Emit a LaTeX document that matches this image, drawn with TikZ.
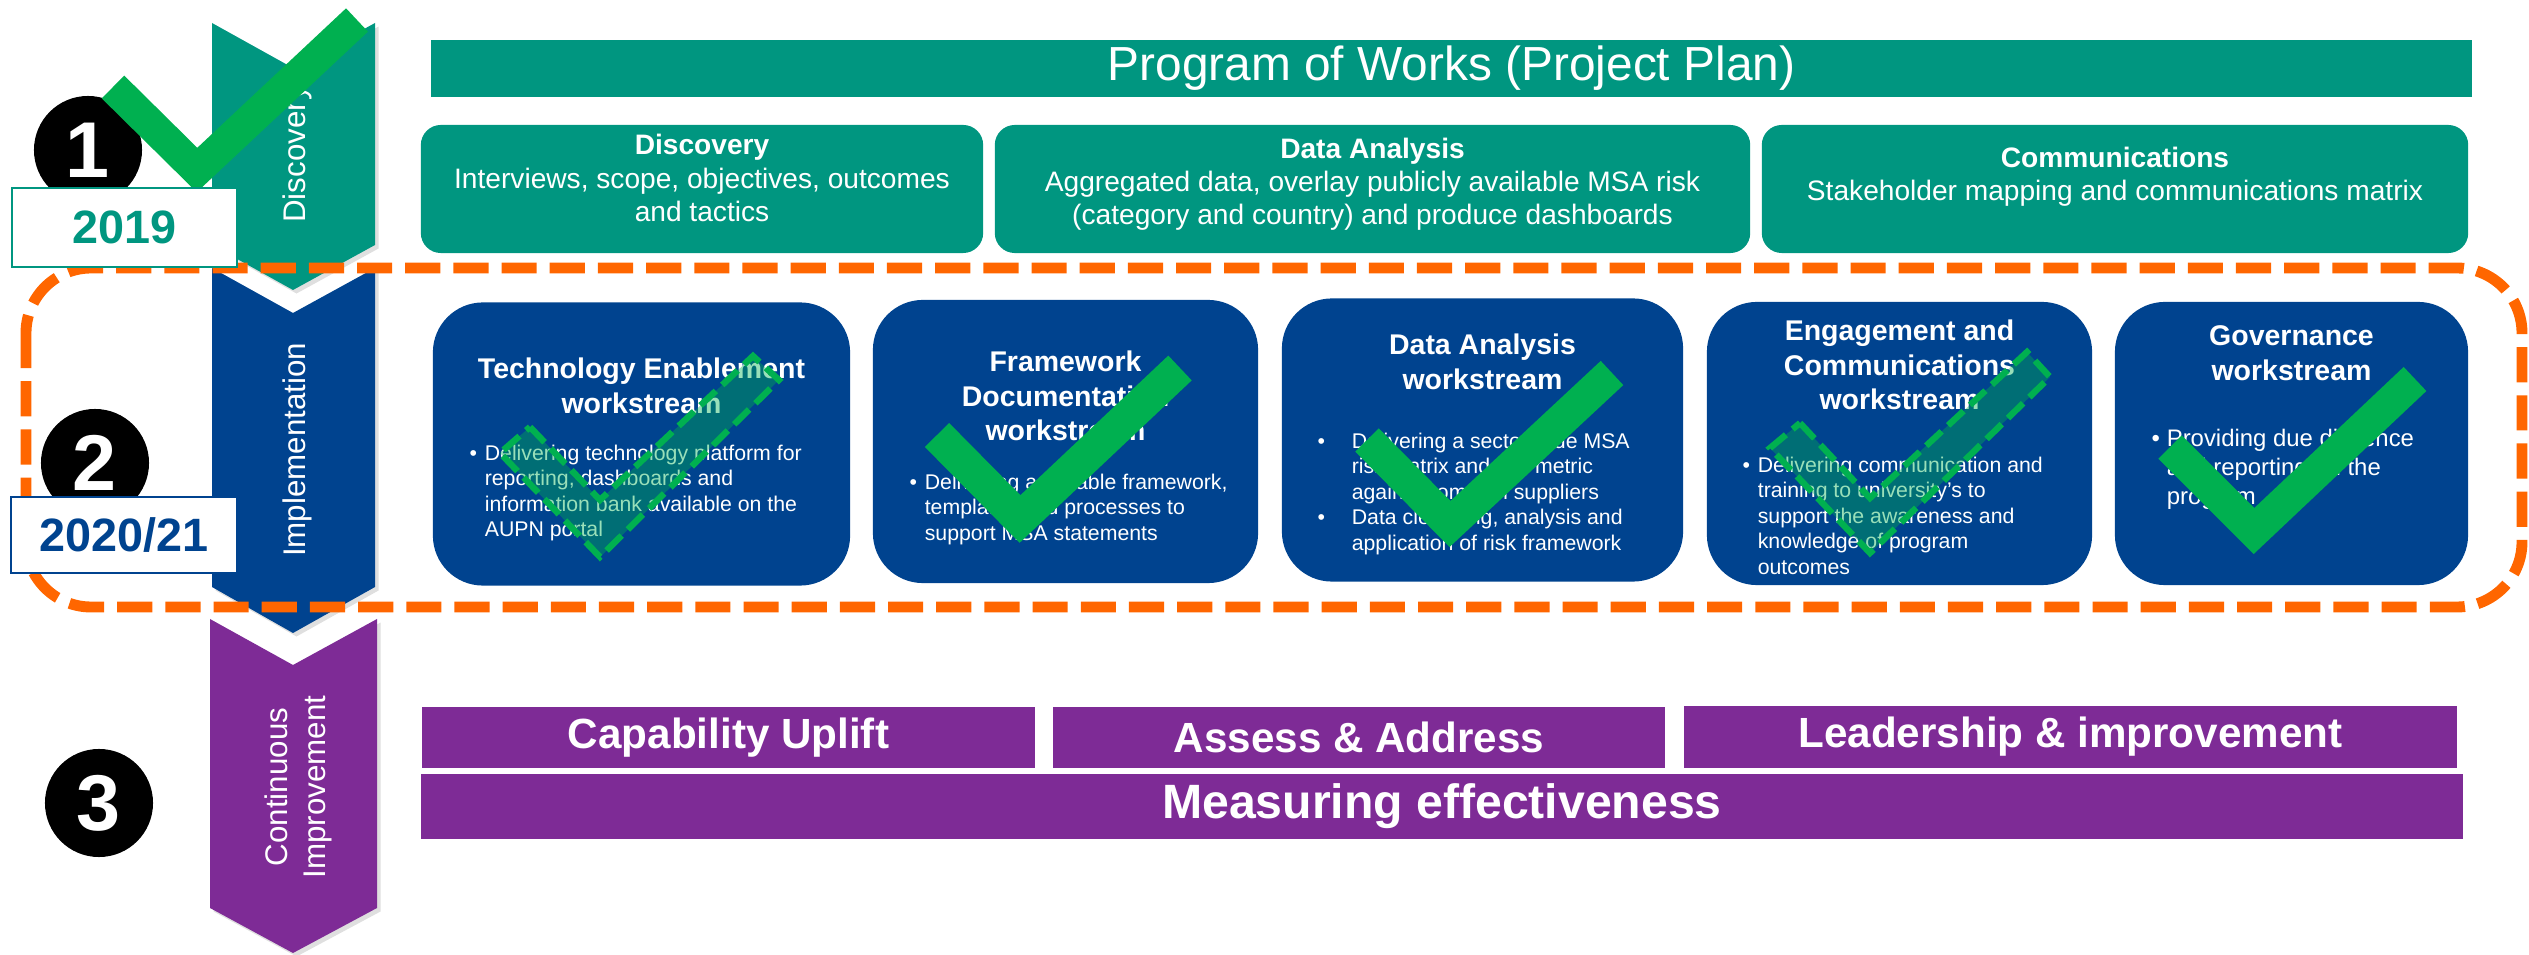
\documentclass[tikz,border=0pt]{standalone}
\usepackage{fontspec}
\setmainfont{Liberation Sans}
\usetikzlibrary{shadows}

\definecolor{pwteal}{RGB}{0,150,128}
\definecolor{pwblue}{RGB}{0,67,143}
\definecolor{pwpurple}{RGB}{126,43,150}
\definecolor{pworange}{RGB}{255,102,0}
\definecolor{pwgreen}{RGB}{0,176,80}

\newcommand{\wsdot}[1]{\makebox[#1][l]{\textbullet}}

\tikzset{
  chevron/.style={drop shadow={shadow xshift=1pt, shadow yshift=-1pt, opacity=0.25}},
  chevlabel/.style={text=white, rotate=90, align=center, inner sep=0pt, font=\fontsize{8.9pt}{10.8pt}\selectfont},
  tealbox/.style={fill=pwteal, rounded corners=0.2cm, inner sep=0pt, minimum height=1.28cm},
  tealtext/.style={text=white, align=center, inner sep=0pt, font=\fontsize{8pt}{9.4pt}\selectfont},
  wsbox/.style={fill=pwblue, rounded corners=0.5cm, inner sep=0pt, minimum height=2.83cm},
  wstitle/.style={text=white, align=center, inner sep=0pt, font=\bfseries\fontsize{8.1pt}{9.8pt}\selectfont},
  wsbody/.style={text=white, align=left, anchor=north west, inner sep=0pt, font=\fontsize{6.05pt}{7.25pt}\selectfont},
  purplebar/.style={fill=pwpurple, text=white, inner sep=0pt, font=\bfseries\fontsize{12pt}{14pt}\selectfont},
  stepnum/.style={circle, fill=black, text=white, minimum size=1.08cm, inner sep=0pt, font=\bfseries\fontsize{22.5pt}{26pt}\selectfont},
  yearbox/.style={draw, fill=white, line width=0.6pt, inner sep=0pt, minimum width=2.25cm, font=\bfseries\fontsize{13.3pt}{16pt}\selectfont},
  donetick/.style={draw=pwgreen, line width=#1, line join=miter, line cap=butt},
  dashtick/.style={draw=pwgreen, fill=pwgreen, fill opacity=0.4, line width=1.8pt, dash pattern=on 6pt off 2.5pt}
}

\begin{document}
\begin{tikzpicture}[x=0.01cm, y=-0.01cm]
            \useasboundingbox (0,0) rectangle (2529,955);

            % phase arrows
            \fill[pwteal, chevron] (212,23) -- (293,68) -- (375,23) -- (375,245) -- (293,290) -- (212,245) -- cycle;
            \fill[pwblue, chevron] (212,268) -- (293,313) -- (375,268) -- (375,587) -- (293,633) -- (212,587) -- cycle;
            \fill[pwpurple, chevron] (210,619) -- (293,665) -- (377,619) -- (377,908) -- (293,953) -- (210,908) -- cycle;
            \node[chevlabel] (disc-lbl) at (297,154) {Discovery};
            \node[chevlabel] (impl-lbl) at (297,450) {Implementation};
            \node[chevlabel] (cont-lbl) at (298,787) {Continuous\\Improvement};

            % program of works
            \node[fill=pwteal, text=white, inner sep=0pt, minimum width=20.39cm, minimum height=0.57cm,
                  font=\fontsize{13.6pt}{16pt}\selectfont] (plan) at (1451.5,68.5) {Program of Works (Project Plan)};
            \node[tealbox, minimum width=5.62cm] (disc) at (702,189) {};
            \node[tealbox, minimum width=7.55cm] (dana) at (1372.5,189) {};
            \node[tealbox, minimum width=7.06cm] (comm) at (2115,189) {};
            \node[tealtext] (disc-txt) at (702,178) {\textbf{Discovery}\\Interviews, scope, objectives, outcomes\\and tactics};
            \node[tealtext] (dana-txt) at (1372.5,184) {\textbf{Data Analysis}\\Aggregated data, overlay publicly available MSA risk\\(category and country) and produce dashboards};
            \node[tealtext] (comm-txt) at (2115,177) {\textbf{Communications}\\Stakeholder mapping and communications matrix};

            % workstreams
            \node[wsbox, minimum width=4.17cm] (ws1) at (641.5,444) {};
            \node[wsbox, minimum width=3.85cm] (ws2) at (1065.5,441.5) {};
            \node[wsbox, minimum width=4.01cm] (ws3) at (1482.5,440) {};
            \node[wsbox, minimum width=3.85cm] (ws4) at (1899.5,443.5) {};
            \node[wsbox, minimum width=3.53cm] (ws5) at (2291.5,443.5) {};

            \node[wstitle] (ws1-t) at (641.5,386) {Technology Enablement\\workstream};
            \node[wstitle] (ws2-t) at (1065.5,396) {Framework\\Documentation\\workstream};
            \node[wstitle] (ws3-t) at (1482.5,362) {Data Analysis\\workstream};
            \node[wstitle] (ws4-t) at (1899.5,365) {Engagement and\\Communications\\workstream};
            \node[wstitle] (ws5-t) at (2291.5,353) {Governance\\workstream};

            \node[wsbody] (ws1-b) at (469,444) {\wsdot{4.3pt}Delivering technology platform for\\\hspace*{4.3pt}reporting, dashboards and\\\hspace*{4.3pt}information bank available on the\\\hspace*{4.3pt}AUPN portal};
            \node[wsbody] (ws2-b) at (909,473) {\wsdot{4.3pt}Delivering a suitable framework,\\\hspace*{4.3pt}templates and processes to\\\hspace*{4.3pt}support MSA statements};
            \node[wsbody] (ws3-b) at (1317,432) {\wsdot{9.7pt}Delivering a sector wide MSA\\\hspace*{9.7pt}risk matrix and risk metric\\\hspace*{9.7pt}against common suppliers\\\wsdot{9.7pt}Data cleansing, analysis and\\\hspace*{9.7pt}application of risk framework};
            \node[wsbody] (ws4-b) at (1742,456) {\wsdot{4.3pt}Delivering communication and\\\hspace*{4.3pt}training to university's to\\\hspace*{4.3pt}support the awareness and\\\hspace*{4.3pt}knowledge of program\\\hspace*{4.3pt}outcomes};
            \node[wsbody, font=\fontsize{6.8pt}{8.25pt}\selectfont] (ws5-b) at (2151,428) {\wsdot{4.3pt}Providing due diligence\\\hspace*{4.3pt}and reporting on the\\\hspace*{4.3pt}program};

            % continuous improvement
            \node[purplebar, minimum width=6.13cm, minimum height=0.61cm] (cap) at (728.5,737.5) {Capability Uplift};
            \node[purplebar, minimum width=6.12cm, minimum height=0.61cm] (assess) at (1359,737.5) {Assess \& Address};
            \node[purplebar, minimum width=7.73cm, minimum height=0.62cm] (lead) at (2070.5,737) {Leadership \& improvement};
            \node[purplebar, minimum width=20.40cm, minimum height=0.65cm, font=\bfseries\fontsize{13.7pt}{16pt}\selectfont] (measure) at (1442,806.5) {Measuring effectiveness};

            % 2020/21 scope
            \draw[pworange, line width=3.1pt, dash pattern=on 10pt off 3.7pt, rounded corners=0.65cm] (26,268) rectangle (2522,607);

            \node[stepnum] (n1) at (88,150) {1};
            \node[stepnum] (n2) at (95,463) {2};
            \node[stepnum] (n3) at (99,803) {3};

            \draw[donetick=9.1pt] (113,87) -- (197,170) -- (357,20);

            \node[yearbox, draw=pwteal, text=pwteal, minimum height=0.79cm] (y1) at (124.5,227.5) {2019};
            \node[yearbox, draw=pwblue, text=pwblue, minimum height=0.76cm] (y2) at (124,535) {2020/21};

            % status ticks
            \draw[dashtick] (530,427) -- (600,500) -- (753,356) -- (779,380) -- (600,557) -- (500,453) -- cycle;
            \draw[donetick=9.7pt] (937,435) -- (1020,519) -- (1180,368);
            \draw[donetick=9.4pt] (1367,440) -- (1450,524) -- (1612,373);
            \draw[dashtick] (1800,423) -- (1870,498) -- (2027,352) -- (2050,377) -- (1870,553) -- (1770,448) -- cycle;
            \draw[donetick=9.4pt] (2170,447) -- (2254,531) -- (2415,379);
          \end{tikzpicture}
\end{document}
